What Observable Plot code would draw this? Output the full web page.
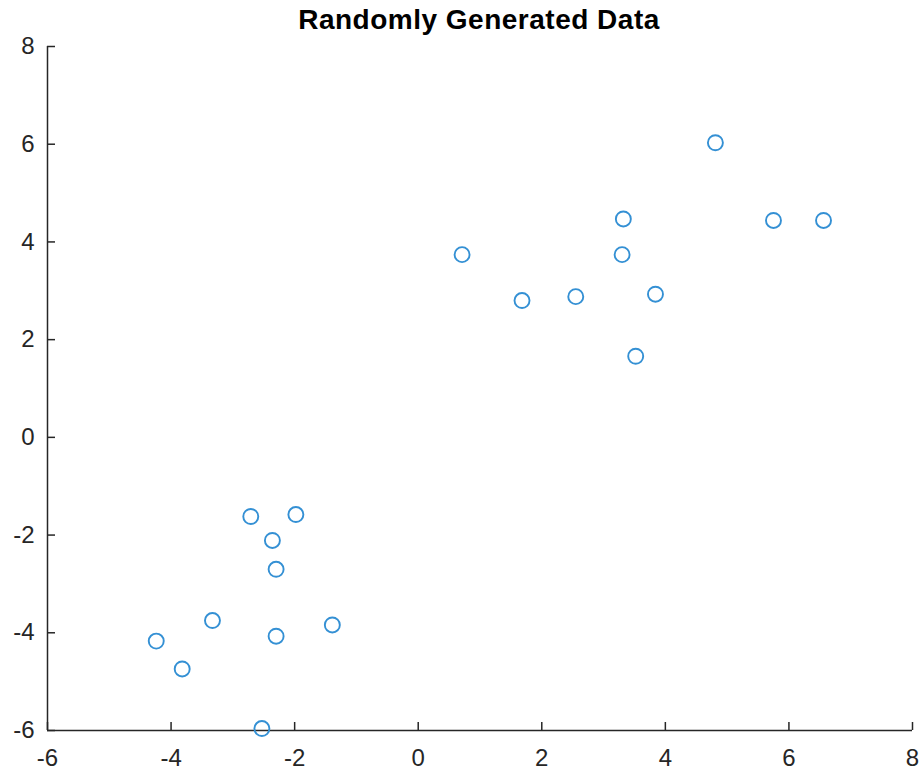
<!DOCTYPE html>
<html>
<head>
<meta charset="utf-8">
<script src="https://cdn.jsdelivr.net/npm/d3@7"></script>
<script src="https://cdn.jsdelivr.net/npm/@observablehq/plot@0.6"></script>
<style>
  html, body { margin: 0; padding: 0; background: #fff; }
  #wrap { width: 921px; height: 772px; position: relative; overflow: hidden; }
  #title { height: 24px; width: 921px; box-sizing: border-box; padding-left: 37px; overflow: visible;
    text-align: center; font-family: "Liberation Sans", Arial, sans-serif; font-weight: bold;
    font-size: 28px; letter-spacing: 0.5px; line-height: 40px; color: #000; white-space: nowrap; }
  #chart svg { display: block; }
</style>
</head>
<body>
<div id="wrap">
  <div id="title">Randomly Generated Data</div>
  <div id="chart"></div>
</div>
<script>
const xValues = [4.81, 5.75, 6.56, 3.32, 0.71, 3.30, 1.68, 2.55, 3.84, 3.52,
                 -2.71, -1.98, -2.36, -2.30, -3.33, -1.39, -2.30, -4.24, -3.82, -2.53];
const yValues = [6.03, 4.44, 4.44, 4.47, 3.74, 3.74, 2.80, 2.88, 2.93, 1.66,
                 -1.62, -1.58, -2.11, -2.70, -3.75, -3.84, -4.07, -4.17, -4.74, -5.96];
const xTicks = [-6, -4, -2, 0, 2, 4, 6, 8];
const yTicks = [-6, -4, -2, 0, 2, 4, 6, 8];

const points = xValues.map((x, i) => ({x, y: yValues[i]}));
const axisColor = "#262626";
const fmt = d => String(d);

const chart = Plot.plot({
  width: 921,
  height: 748,
  marginTop: 22,
  marginBottom: 42,
  marginLeft: 47,
  marginRight: 9,
  style: {fontFamily: "'Liberation Sans', Arial, sans-serif", fontSize: "24px", color: axisColor, background: "#fff", overflow: "visible"},
  x: {domain: [-6, 8]},
  y: {domain: [-6, 8]},
  marks: [
    Plot.ruleY([yTicks[0]], {stroke: axisColor, strokeWidth: 1.5}),
    Plot.ruleX([xTicks[0]], {stroke: axisColor, strokeWidth: 1.5}),
    Plot.axisX(xTicks, {anchor: "bottom", tickSize: -8, tickPadding: 26, tickFormat: fmt, stroke: axisColor, strokeWidth: 1.5, fill: axisColor, label: null, fontSize: 24}),
    Plot.axisY(yTicks, {anchor: "left", tickSize: -8, tickPadding: 21, tickFormat: fmt, stroke: axisColor, strokeWidth: 1.5, fill: axisColor, label: null, fontSize: 24}),
    Plot.dot(points, {x: "x", y: "y", r: 7.5, stroke: "#3490d4", strokeWidth: 1.9, fill: "none"})
  ]
});
document.getElementById("chart").appendChild(chart);
</script>
</body>
</html>
